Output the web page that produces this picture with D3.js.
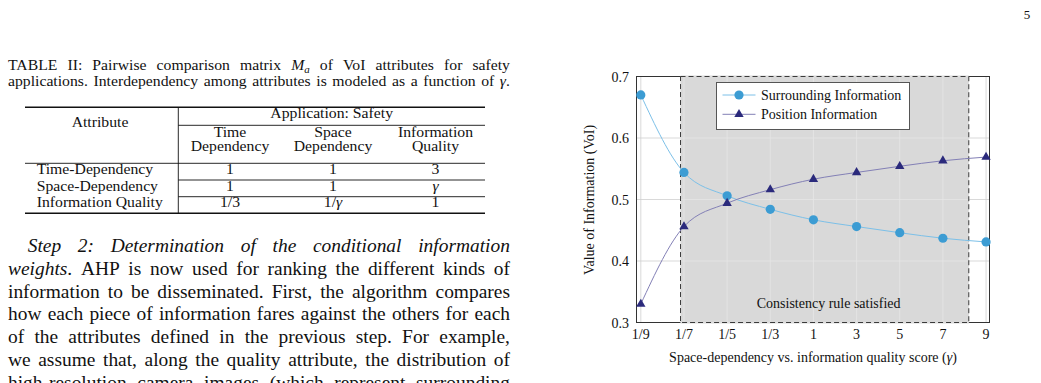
<!DOCTYPE html>
<html>
<head>
<meta charset="utf-8">
<script src="https://cdn.jsdelivr.net/npm/d3@7"></script>
<style>
  body { margin: 0; background: #fff; }
  svg { display: block; font-family: "Liberation Serif", "Times New Roman", serif; }
  text { fill: #111; }
</style>
</head>
<body>
<svg id="page" width="1041" height="383"></svg>
<script>
// chart data
const gammaLabels = ["1/9", "1/7", "1/5", "1/3", "1", "3", "5", "7", "9"];
const surrounding = [0.670, 0.544, 0.506, 0.484, 0.467, 0.456, 0.446, 0.437, 0.431];
const position = [0.330, 0.456, 0.494, 0.516, 0.533, 0.544, 0.554, 0.563, 0.569];
const yTicks = [0.3, 0.4, 0.5, 0.6, 0.7];
const consistentRange = [0.92, 7.6]; // in gamma-index units
const seriesNames = ["Surrounding Information", "Position Information"];

// text of the page (*..* italic, _x subscript)
const captionLines = [
  "TABLE II: Pairwise comparison matrix *M_a* of VoI attributes for safety",
  "applications. Interdependency among attributes is modeled as a function of *γ*."
];
const tableCols = [["Time", "Dependency"], ["Space", "Dependency"], ["Information", "Quality"]];
const tableRows = ["Time-Dependency", "Space-Dependency", "Information Quality"];
const tableCells = [["1", "1", "3"], ["1", "1", "*γ*"], ["1/3", "1/*γ*", "1"]];
const paraLines = [
  "*Step 2: Determination of the conditional information*",
  "*weights*. AHP is now used for ranking the different kinds of",
  "information to be disseminated. First, the algorithm compares",
  "how each piece of information fares against the others for each",
  "of the attributes defined in the previous step. For example,",
  "we assume that, along the quality attribute, the distribution of",
  "high-resolution camera images (which represent surrounding"
];

const svg = d3.select("#page");

// ---- text helpers ----
function parseLine(line) {
  let it = false;
  return line.split(" ").map(word => {
    const out = [];
    for (let i = 0; i < word.length; i++) {
      const c = word[i];
      if (c === "*") { it = !it; continue; }
      if (c === "_") { out.push({t: word[i + 1], it, sub: true}); i++; continue; }
      const last = out[out.length - 1];
      if (last && last.it === it && !last.sub) last.t += c;
      else out.push({t: c, it, sub: false});
    }
    return out;
  });
}

function drawWord(parent, segs, fs) {
  const t = parent.append("text").attr("font-size", fs);
  let down = false;
  segs.forEach(s => {
    const ts = t.append("tspan").text(s.t).attr("font-style", s.it ? "italic" : null);
    if (s.sub) { ts.attr("font-size", fs * 0.7).attr("dy", fs * 0.22); down = true; }
    else if (down) { ts.attr("dy", -fs * 0.22); down = false; }
  });
  return t;
}

function justify(line, x0, x1, y, fs, sx) {
  const g = svg.append("g");
  const words = parseLine(line);
  const nodes = words.map(w => drawWord(g, w, fs));
  const widths = nodes.map(n => n.node().getComputedTextLength() * sx);
  const gap = (x1 - x0 - d3.sum(widths)) / (words.length - 1);
  let x = x0;
  nodes.forEach((n, i) => {
    n.attr("transform", `translate(${x},${y}) scale(${sx},1)`);
    x += widths[i] + gap;
  });
}

function label(line, x, y, fs, sx, anchor) {
  const segs = parseLine(line).reduce((a, w, i) => a.concat(i ? [{t: " ", it: false, sub: false}] : [], w), []);
  const t = drawWord(svg, segs, fs);
  t.attr("text-anchor", anchor).attr("transform", `translate(${x},${y}) scale(${sx},1)`);
  return t;
}

// ---- page number ----
svg.append("text").attr("x", 1027).attr("y", 19).attr("font-size", 13).attr("text-anchor", "middle").text("5");

// ---- caption ----
captionLines.forEach((l, i) => justify(l, 8, 510, [69.5, 86][i], 14.3, 1.1));

// ---- table ----
const tl = 25, tr = 485, tv = 178.3;
const rule = (x1, x2, y, w) => svg.append("line").attr("x1", x1).attr("x2", x2).attr("y1", y).attr("y2", y)
  .attr("stroke", "#111").attr("stroke-width", w);
rule(tl, tr, 107.3, 1.6);
rule(tv, tr, 125.3, 0.9);
rule(tl, tr, 163.3, 0.9);
rule(tv, tr, 180, 0.9);
rule(tv, tr, 196.7, 0.9);
rule(tl, tr, 213.3, 1.6);
svg.append("line").attr("x1", tv).attr("x2", tv).attr("y1", 107.3).attr("y2", 213.3)
  .attr("stroke", "#111").attr("stroke-width", 0.9);

const colX = [230, 333, 435.5];
const rowY = [174, 190.7, 207.3];
label("Attribute", 100, 127.3, 14.3, 1.1, "middle");
label("Application: Safety", 331.7, 118.3, 14.3, 1.1, "middle");
tableCols.forEach((c, j) => {
  label(c[0], colX[j], 137.3, 14.3, 1.1, "middle");
  label(c[1], colX[j], 151, 14.3, 1.1, "middle");
});
tableRows.forEach((r, i) => {
  label(r, 36.7, rowY[i], 14.3, 1.1, "start");
  tableCells[i].forEach((v, j) => label(v, colX[j], rowY[i], 14.3, 1.1, "middle"));
});

// ---- paragraph ----
paraLines.forEach((l, i) => justify(l, i === 0 ? 27.7 : 8, 510, 252 + i * 22.8, 18, 1.08));

// ---- chart ----
const plot = {left: 636.5, right: 989.5, top: 76.5, bottom: 322.5};
const x = d3.scaleLinear().domain([-0.1, 8.08]).range([plot.left, plot.right]);
const y = d3.scaleLinear().domain([0.3, 0.7]).range([plot.bottom, plot.top]);
const idx = d3.range(gammaLabels.length);

const chart = svg.append("g").attr("font-size", 14);

function grid(g, color) {
  g.selectAll(".gx").data(idx).join("line")
    .attr("x1", d => x(d)).attr("x2", d => x(d)).attr("y1", plot.top).attr("y2", plot.bottom)
    .attr("stroke", color).attr("stroke-width", 0.8);
  g.selectAll(".gy").data(yTicks).join("line").attr("class", "gy")
    .attr("x1", plot.left).attr("x2", plot.right).attr("y1", d => y(d)).attr("y2", d => y(d))
    .attr("stroke", color).attr("stroke-width", 0.8);
}
grid(chart.append("g"), "#cfcfcf");

chart.append("rect")
  .attr("x", plot.left).attr("y", plot.top).attr("width", plot.right - plot.left).attr("height", plot.bottom - plot.top)
  .attr("fill", "none").attr("stroke", "#333").attr("stroke-width", 1);

const rx0 = x(consistentRange[0]), rx1 = x(consistentRange[1]);
chart.append("rect")
  .attr("x", rx0).attr("y", plot.top - 1).attr("width", rx1 - rx0).attr("height", plot.bottom - plot.top + 2)
  .attr("fill", "#d9d9d9");
chart.append("clipPath").attr("id", "regionClip").append("rect")
  .attr("x", rx0).attr("y", plot.top).attr("width", rx1 - rx0).attr("height", plot.bottom - plot.top);
grid(chart.append("g").attr("clip-path", "url(#regionClip)"), "#e6e6e6");
chart.append("rect")
  .attr("x", rx0).attr("y", plot.top).attr("width", rx1 - rx0).attr("height", plot.bottom - plot.top)
  .attr("fill", "none").attr("stroke", "#3a3a3a").attr("stroke-width", 1).attr("stroke-dasharray", "5,3");

chart.append("text").attr("x", (rx0 + rx1) / 2 + 4).attr("y", 307.5).attr("text-anchor", "middle")
  .text("Consistency rule satisfied");

// tick labels
chart.selectAll(".xt").data(idx).join("text")
  .attr("x", d => x(d)).attr("y", 339).attr("text-anchor", "middle").text(d => gammaLabels[d]);
chart.selectAll(".yt").data(yTicks).join("text")
  .attr("x", 629).attr("y", d => y(d) + 5).attr("text-anchor", "end").text(d => d.toFixed(1));

const xTitle = chart.append("text").attr("x", 813).attr("y", 361.5).attr("text-anchor", "middle");
xTitle.append("tspan").text("Space-dependency vs. information quality score (");
xTitle.append("tspan").attr("font-style", "italic").text("γ");
xTitle.append("tspan").text(")");
chart.append("text").attr("transform", "translate(594,200) rotate(-90)").attr("text-anchor", "middle")
  .text("Value of Information (VoI)");

// series
const series = [
  {values: surrounding, line: "#7cc0e8", mark: "#3c9cd3", shape: "circle"},
  {values: position, line: "#8380b6", mark: "#2b2a7c", shape: "triangle"}
];
const lineGen = d3.line().x((d, i) => x(i)).y(d => y(d)).curve(d3.curveMonotoneX);
const tri = d3.symbol(d3.symbolTriangle, 38);

function marker(g, s) {
  if (s.shape === "circle") return g.append("circle").attr("r", 4.6).attr("fill", s.mark);
  return g.append("path").attr("d", tri()).attr("fill", s.mark);
}

series.forEach(s => {
  chart.append("path").attr("d", lineGen(s.values)).attr("fill", "none")
    .attr("stroke", s.line).attr("stroke-width", 1);
  s.values.forEach((v, i) => marker(chart.append("g").attr("transform", `translate(${x(i)},${y(v)})`), s));
});

// legend
const lg = chart.append("g");
lg.append("rect").attr("x", 716.5).attr("y", 82.5).attr("width", 193).attr("height", 47)
  .attr("fill", "#fff").attr("stroke", "#555").attr("stroke-width", 1);
series.forEach((s, i) => {
  const ly = 95 + i * 19.3;
  lg.append("line").attr("x1", 722.5).attr("x2", 755.5).attr("y1", ly).attr("y2", ly)
    .attr("stroke", s.line).attr("stroke-width", 1);
  marker(lg.append("g").attr("transform", `translate(739,${ly})`), s);
  lg.append("text").attr("x", 761).attr("y", ly + 4.8).text(seriesNames[i]);
});
</script>
</body>
</html>
